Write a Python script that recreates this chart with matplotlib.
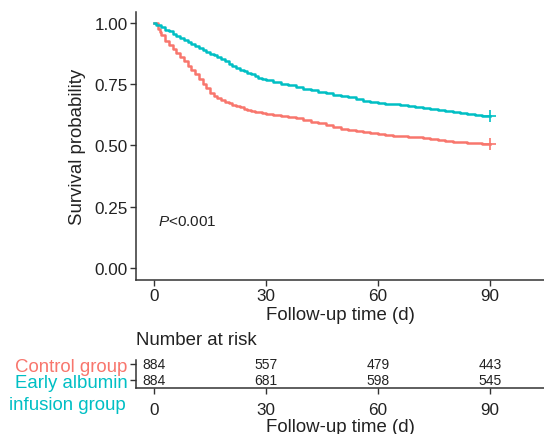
import matplotlib
matplotlib.use("Agg")
import matplotlib.pyplot as plt
from matplotlib.transforms import blended_transform_factory

plt.rcParams['font.family'] = ['Liberation Sans', 'DejaVu Sans']
plt.rcParams['mathtext.fontset'] = 'custom'
plt.rcParams['mathtext.it'] = 'Liberation Sans:italic'
plt.rcParams['mathtext.rm'] = 'Liberation Sans'

# ---- data ----
ctrl_t = [0, 1, 1.5, 2, 3, 4, 5, 6, 7, 8, 9, 10, 11, 12, 13, 14, 15, 16, 17, 18, 19, 20,
          21, 22, 23, 24, 25, 26, 27, 28, 29, 30, 32, 34, 36, 38, 40, 42, 44, 46, 48, 50,
          52, 54, 56, 58, 60, 62, 64, 66, 68, 70, 72, 74, 76, 78, 80, 82, 84, 86, 88, 90]
ctrl_s = [1.0, 0.977, 0.962, 0.950, 0.928, 0.911, 0.893, 0.876, 0.861, 0.846, 0.826, 0.807,
          0.792, 0.770, 0.752, 0.733, 0.712, 0.700, 0.692, 0.684, 0.676, 0.672, 0.667, 0.662,
          0.656, 0.649, 0.645, 0.640, 0.637, 0.635, 0.632, 0.629, 0.623, 0.619, 0.616, 0.611,
          0.604, 0.597, 0.592, 0.582, 0.574, 0.567, 0.563, 0.559, 0.555, 0.550, 0.545, 0.542,
          0.539, 0.537, 0.535, 0.533, 0.531, 0.528, 0.524, 0.520, 0.516, 0.513, 0.510, 0.508,
          0.506, 0.504]

alb_t = [0, 0.5, 1, 2, 3, 4, 5, 6, 7, 8, 9, 10, 11, 12, 13, 14, 15, 16, 17, 18, 19, 20,
         21, 22, 23, 24, 25, 26, 27, 28, 29, 30, 32, 34, 36, 38, 40, 42, 44, 46, 48, 50,
         52, 54, 56, 58, 60, 62, 64, 66, 68, 70, 72, 74, 76, 78, 80, 82, 84, 86, 88, 90]
alb_s = [1.0, 0.993, 0.990, 0.982, 0.973, 0.965, 0.956, 0.947, 0.939, 0.930, 0.921, 0.913,
         0.905, 0.897, 0.890, 0.882, 0.875, 0.868, 0.860, 0.852, 0.843, 0.834, 0.825, 0.815,
         0.807, 0.802, 0.797, 0.792, 0.785, 0.777, 0.771, 0.766, 0.759, 0.752, 0.745, 0.739,
         0.732, 0.726, 0.720, 0.712, 0.705, 0.701, 0.697, 0.690, 0.682, 0.678, 0.674, 0.671,
         0.668, 0.664, 0.660, 0.657, 0.654, 0.650, 0.645, 0.641, 0.638, 0.634, 0.629, 0.626,
         0.622, 0.619]

risk_times = [0, 30, 60, 90]
risk_ctrl = [884, 557, 479, 443]
risk_alb = [884, 681, 598, 545]
x_ticks = [0, 30, 60, 90]
y_ticks = [0.00, 0.25, 0.50, 0.75, 1.00]
y_ticklabels = ["0.00", "0.25", "0.50", "0.75", "1.00"]

RED = "#F8766D"
TEAL = "#00BFC4"
DARK = "#333333"
TXT = "#222222"

fig = plt.figure(figsize=(5.44, 4.35), dpi=100)

# ---- main KM plot ----
ax = fig.add_axes([0.25, 0.354, 0.75, 0.617])
ax.step(ctrl_t, ctrl_s, where='post', color=RED, lw=1.8)
ax.step(alb_t, alb_s, where='post', color=TEAL, lw=1.8)
ax.plot([ctrl_t[-1]], [ctrl_s[-1]], marker='+', color=RED, ms=8, mew=1.2)
ax.plot([alb_t[-1]], [alb_s[-1]], marker='+', color=TEAL, ms=8, mew=1.2)

ax.set_xlim(-4.82, 104.5)
ax.set_ylim(-0.049, 1.046)
ax.set_xticks(x_ticks)
ax.set_yticks(y_ticks)
ax.set_yticklabels(y_ticklabels)
for s in ['top', 'right']:
    ax.spines[s].set_visible(False)
for s in ['left', 'bottom']:
    ax.spines[s].set_color(DARK)
    ax.spines[s].set_linewidth(1.1)
ax.tick_params(axis='both', colors=DARK, labelcolor=TXT, labelsize=12.3,
               length=4, width=1.0, pad=2)
ax.set_xlabel("Follow-up time (d)", fontsize=13.4, color=TXT, labelpad=2)
ax.set_ylabel("Survival probability", fontsize=13.4, color=TXT, labelpad=6)
ax.text(1.0, 0.193, "$\\it{P}$<0.001", fontsize=11, color=TXT,
        ha='left', va='center')

# ---- risk table ----
rax = fig.add_axes([0.25, 0.1057, 0.75, 0.0644])
rax.set_xlim(-4.82, 104.5)
rax.set_ylim(0.5, 2.25)
for t, n in zip(risk_times, risk_ctrl):
    rax.text(t, 2, str(n), ha='center', va='center', fontsize=10, color=TXT)
for t, n in zip(risk_times, risk_alb):
    rax.text(t, 1, str(n), ha='center', va='center', fontsize=10, color=TXT)
rax.set_xticks(x_ticks)
rax.set_yticks([2, 1])
for s in ['top', 'right']:
    rax.spines[s].set_visible(False)
for s in ['left', 'bottom']:
    rax.spines[s].set_color(DARK)
    rax.spines[s].set_linewidth(1.1)
rax.tick_params(axis='x', colors=DARK, labelcolor=TXT, labelsize=12.3,
                length=4, width=1.0, pad=6)
rax.tick_params(axis='y', colors=DARK, length=4, width=1.0, pad=2, labelsize=13.4)
rax.set_yticklabels(["Control group", "Early albumin"])
for lbl, c in zip(rax.get_yticklabels(), [RED, TEAL]):
    lbl.set_color(c)
trans = blended_transform_factory(rax.transAxes, rax.transData)
rax.text(-0.026, -0.5, "infusion group", transform=trans, ha='right', va='center',
         fontsize=13.4, color=TEAL, clip_on=False)
rax.set_xlabel("Follow-up time (d)", fontsize=13.4, color=TXT, labelpad=1)
fig.text(136 / 544, 1 - 341 / 435, "Number at risk", fontsize=13.4, color=TXT,
         ha='left', va='center')

fig.savefig("out.png", dpi=100)
